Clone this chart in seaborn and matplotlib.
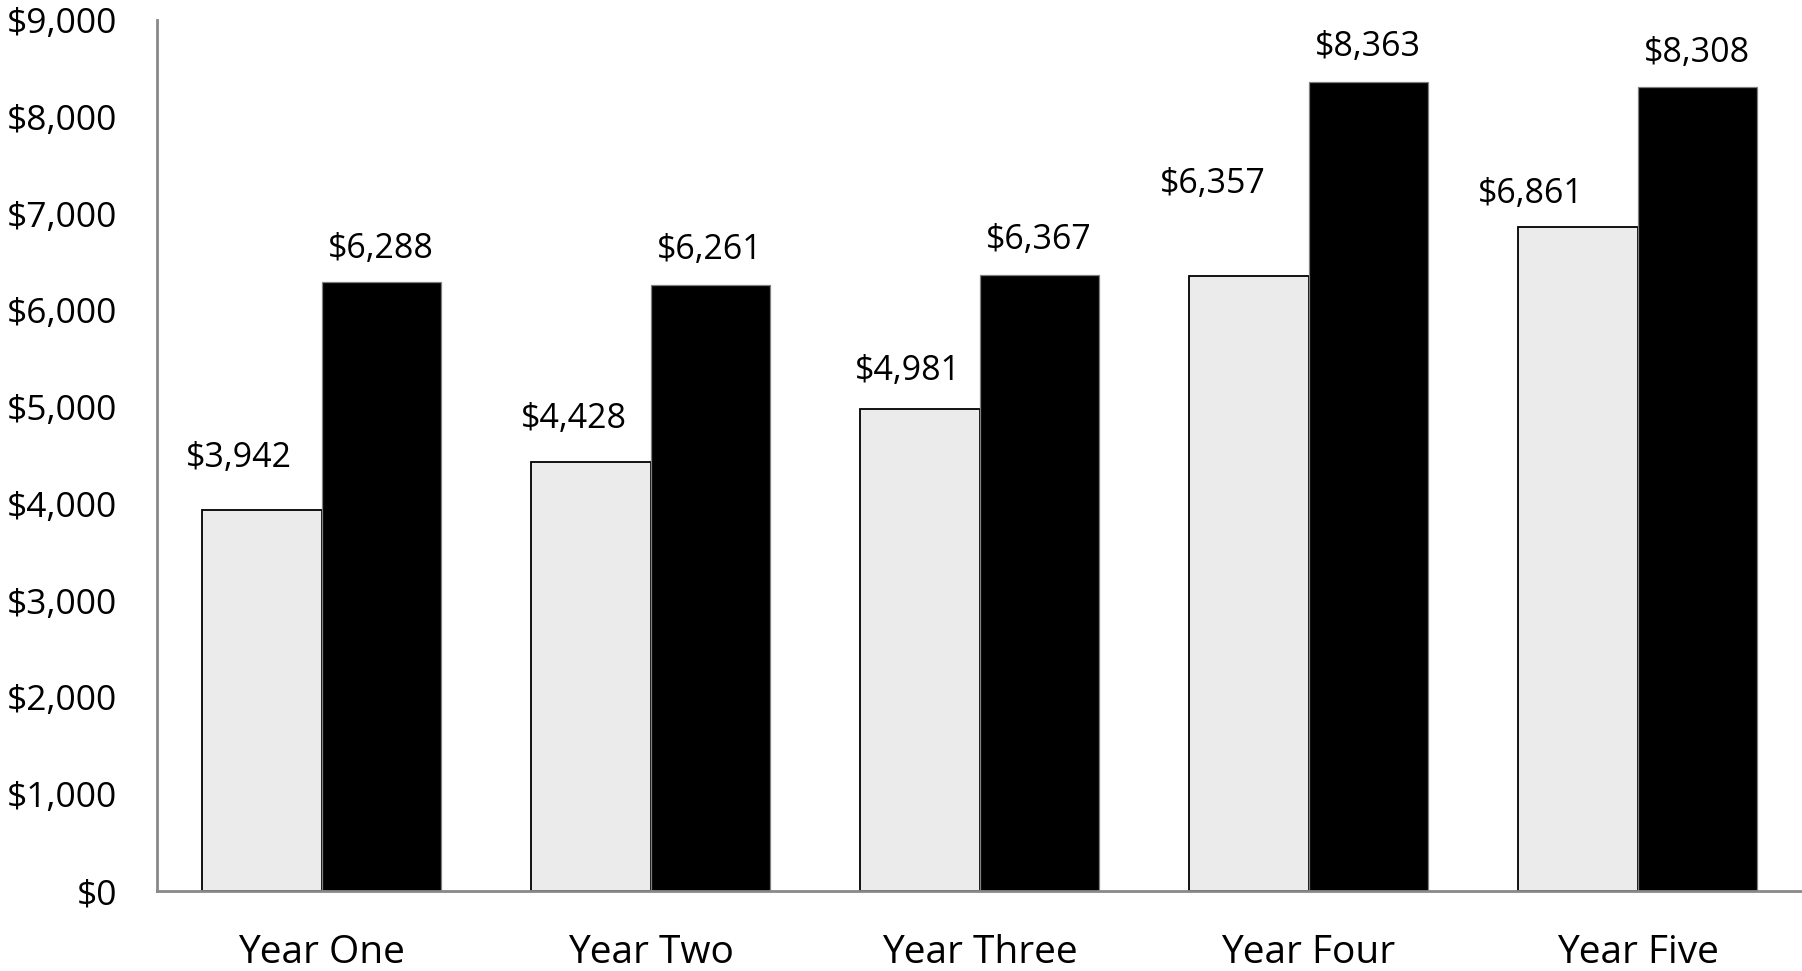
import matplotlib
matplotlib.use("Agg")
import matplotlib.pyplot as plt
import seaborn as sns
import pandas as pd
from matplotlib.ticker import FuncFormatter, MultipleLocator

# Values per year for the two series
years = ["Year One", "Year Two", "Year Three", "Year Four", "Year Five"]
series_names = ["Series A", "Series B"]
series_a = [3942, 4428, 4981, 6357, 6861]
series_b = [6288, 6261, 6367, 8363, 8308]

# Label placement (pixel offsets of each label centre from its bar's top centre)
label_offsets_a = [(-23, 52), (-17, 43), (-12, 38), (-36, 92), (-47, 33)]
label_offsets_b = [(0, 33), (0, 35), (0, 35), (0, 34.5), (0, 34)]

df = pd.DataFrame({
    "year": years * 2,
    "series": [series_names[0]] * len(years) + [series_names[1]] * len(years),
    "value": series_a + series_b,
})

sns.set_theme(style="white")
plt.rcParams["font.family"] = ["Open Sans", "DejaVu Sans"]

DPI = 100
fig = plt.figure(figsize=(18.02, 9.71), dpi=DPI)
ax = fig.add_axes([157 / 1802, 80 / 971, 1 - 157 / 1802, (891 - 20) / 971])

sns.barplot(
    data=df, x="year", y="value", hue="series", order=years,
    hue_order=series_names, palette=["#ebebeb", "#000000"],
    width=0.724, saturation=1, legend=False, ax=ax,
)

# Bar outlines
for bar in ax.containers[0]:
    bar.set_edgecolor("black")
    bar.set_linewidth(1.3)
for bar in ax.containers[1]:
    bar.set_edgecolor("#808080")
    bar.set_linewidth(0.9)

ax.set_xlim(-0.5, 4.5)
ax.set_ylim(0, 9000)
ax.yaxis.set_major_locator(MultipleLocator(1000))
ax.yaxis.set_major_formatter(FuncFormatter(lambda v, _: f"${v:,.0f}"))
ax.set_xlabel("")
ax.set_ylabel("")

ax.tick_params(axis="y", length=0, pad=28.5, labelsize=25.5, labelcolor="black")
ax.tick_params(axis="x", length=0, pad=31, labelsize=28, labelcolor="black")

for side in ("top", "right"):
    ax.spines[side].set_visible(False)
for side in ("left", "bottom"):
    ax.spines[side].set_color("#898989")
    ax.spines[side].set_linewidth(2.0)

px2pt = 72 / DPI
for container, values, offsets in (
    (ax.containers[0], series_a, label_offsets_a),
    (ax.containers[1], series_b, label_offsets_b),
):
    for bar, val, (dx, dy) in zip(container, values, offsets):
        ax.annotate(
            f"${val:,}",
            xy=(bar.get_x() + bar.get_width() / 2, bar.get_height()),
            xytext=(dx * px2pt, dy * px2pt), textcoords="offset points",
            ha="center", va="center", fontsize=24.5, color="black",
            annotation_clip=False,
        )

fig.savefig("out.png", dpi=DPI, facecolor="white")
